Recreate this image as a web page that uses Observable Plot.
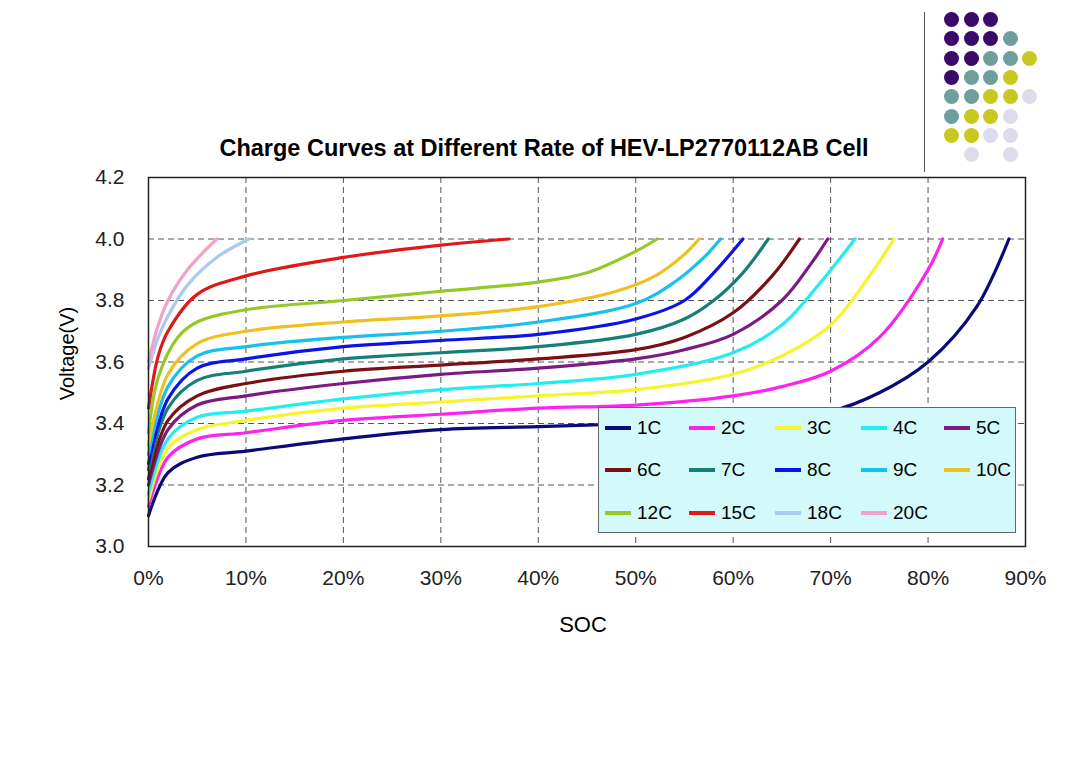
<!DOCTYPE html>
<html><head><meta charset="utf-8">
<script src="https://cdn.jsdelivr.net/npm/d3@7"></script>
<script src="https://cdn.jsdelivr.net/npm/@observablehq/plot@0.6"></script>
<style>
body{margin:0;background:#fff;font-family:"Liberation Sans",Arial,sans-serif;}
#wrap{position:relative;width:1080px;height:764px;overflow:hidden;}
#chart{position:absolute;left:0;top:0;}
.t{position:absolute;white-space:nowrap;}
#legend{position:absolute;left:598px;top:407px;width:418px;height:126px;background:#d3fafa;border:1px solid #666;box-sizing:border-box;}
.li{position:absolute;font-size:19px;display:flex;align-items:center;}
.li span.sw{display:inline-block;width:26px;height:4px;margin-right:6px;}
.dot{position:absolute;width:15px;height:15px;border-radius:50%;}
</style></head>
<body><div id="wrap"><div id="chart"></div>
<div class="t" style="left:0;width:1088px;text-align:center;top:135px;font-size:23.5px;font-weight:bold;">Charge Curves at Different Rate of HEV-LP2770112AB Cell</div>
<div class="t" style="left:540px;width:86px;text-align:center;top:612px;font-size:22px;">SOC</div>
<div class="t" style="left:-8px;top:342px;width:150px;text-align:center;font-size:20px;transform:rotate(-90deg);">Voltage(V)</div>
<div id="legend"></div>
<div style="position:absolute;left:924px;top:12px;width:1px;height:160px;background:#555"></div>
<div id="dots"></div>
</div>
<script>
const rates = ["1C","2C","3C","4C","5C","6C","7C","8C","9C","10C","12C","15C","18C","20C"];
const colors = ["#0a0a78","#ff22ee","#f5f52a","#22eef0","#7a1a82","#7a0f14","#168078","#0a14e6","#18c0ec","#f0c020","#96c828","#e01818","#a8cbef","#f5a0c8"];
const soc = [
 [0,2,5,10,20,30,40,50,60,70,75,80,85,88.3],
 [0,2,5,10,20,30,40,50,60,65,70,75,80,81.5],
 [0,2,5,10,20,30,40,50,60,65,70,74,76.5],
 [0,2,5,10,20,30,40,50,60,65,69,72.5],
 [0,2,5,10,20,30,40,50,55,60,65,68,69.7],
 [0,2,5,10,20,30,40,50,55,60,64,66.8],
 [0,2,5,10,20,30,40,50,55,58,61,63.6],
 [0,2,5,10,20,30,40,50,55,58,61],
 [0,2,5,10,20,30,40,50,54,57,58.7],
 [0,2,5,10,20,30,40,48,52,55,56.5],
 [0,1,3,5,10,20,30,40,45,50,52.2],
 [0,1,2,5,10,20,30,37],
 [0,1,2,4,7,10.3],
 [0,1,2,4,7]
];
const volt = [
 [3.10,3.24,3.29,3.31,3.35,3.38,3.39,3.40,3.41,3.44,3.50,3.60,3.78,4.0],
 [3.13,3.29,3.35,3.37,3.41,3.43,3.45,3.46,3.49,3.52,3.57,3.68,3.90,4.0],
 [3.15,3.32,3.38,3.41,3.45,3.47,3.49,3.51,3.56,3.62,3.72,3.88,4.0],
 [3.17,3.35,3.42,3.44,3.48,3.51,3.53,3.56,3.63,3.72,3.86,4.0],
 [3.20,3.38,3.46,3.49,3.53,3.56,3.58,3.61,3.64,3.69,3.80,3.92,4.0],
 [3.22,3.41,3.49,3.53,3.57,3.59,3.61,3.64,3.68,3.76,3.88,4.0],
 [3.25,3.45,3.54,3.57,3.61,3.63,3.65,3.69,3.74,3.80,3.89,4.0],
 [3.27,3.48,3.58,3.61,3.65,3.67,3.69,3.74,3.80,3.89,4.0],
 [3.30,3.52,3.62,3.65,3.68,3.70,3.73,3.79,3.86,3.94,4.0],
 [3.33,3.56,3.66,3.70,3.73,3.75,3.78,3.83,3.88,3.95,4.0],
 [3.37,3.55,3.68,3.73,3.77,3.80,3.83,3.86,3.89,3.96,4.0],
 [3.45,3.62,3.70,3.82,3.88,3.94,3.98,4.0],
 [3.58,3.68,3.75,3.85,3.94,4.0],
 [3.60,3.72,3.80,3.90,4.0]
];
const xTicks = [0,10,20,30,40,50,60,70,80,90];
const yTicks = [3.0,3.2,3.4,3.6,3.8,4.0,4.2];

const data = [];
rates.forEach((r,i)=>soc[i].forEach((s,j)=>data.push({rate:r,soc:s,v:volt[i][j]})));

const marks = [
  Plot.gridX(xTicks,{stroke:"#555",strokeOpacity:1,strokeDasharray:"6,4"}),
  Plot.gridY(yTicks,{stroke:"#555",strokeOpacity:1,strokeDasharray:"6,4"}),
  Plot.axisX(xTicks,{tickSize:0,tickPadding:24,tickFormat:d=>d+"%",fontSize:21,label:null}),
  Plot.axisY(yTicks,{tickSize:0,tickPadding:24,tickFormat:d3.format(".1f"),fontSize:21,label:null}),
  ...rates.map((r,i)=>Plot.line(data.filter(d=>d.rate===r),{x:"soc",y:"v",stroke:colors[i],strokeWidth:3.2,curve:"catmull-rom"})),
  Plot.frame({stroke:"#222",strokeWidth:1.5})
];
const plot = Plot.plot({
  width:1080,height:764,
  marginLeft:148,marginRight:55,marginTop:177,marginBottom:218,
  style:{fontFamily:"Liberation Sans, Arial, sans-serif",color:"#222",background:"transparent"},
  x:{domain:[0,90]},
  y:{domain:[3.0,4.2]},
  marks
});
document.getElementById("chart").appendChild(plot);

const lg = document.getElementById("legend");
const colX=[6,90,176,262,345], rowY=[9,51,94];
rates.forEach((r,i)=>{
  const d=document.createElement("div");d.className="li";
  d.style.left=colX[i%5]+"px";d.style.top=rowY[Math.floor(i/5)]+"px";
  d.innerHTML=`<span class="sw" style="background:${colors[i]}"></span>${r}`;
  lg.appendChild(d);
});
const dc=["#3a0a6a","#6f9e9c","#c8c820","#dcdcec"];
const rows=[[0,0,0],[0,0,0,1],[0,0,1,1,2],[0,1,1,2],[1,1,2,2,3],[1,2,2,3],[2,2,3,3],[-1,3,-1,3]];
const dd=document.getElementById("dots");
rows.forEach((row,ri)=>row.forEach((c,ci)=>{ if(c<0)return;
  const e=document.createElement("div");e.className="dot";
  e.style.left=(944+ci*19.5)+"px";e.style.top=(12+ri*19.3)+"px";e.style.background=dc[c];dd.appendChild(e);}));
</script></body></html>
